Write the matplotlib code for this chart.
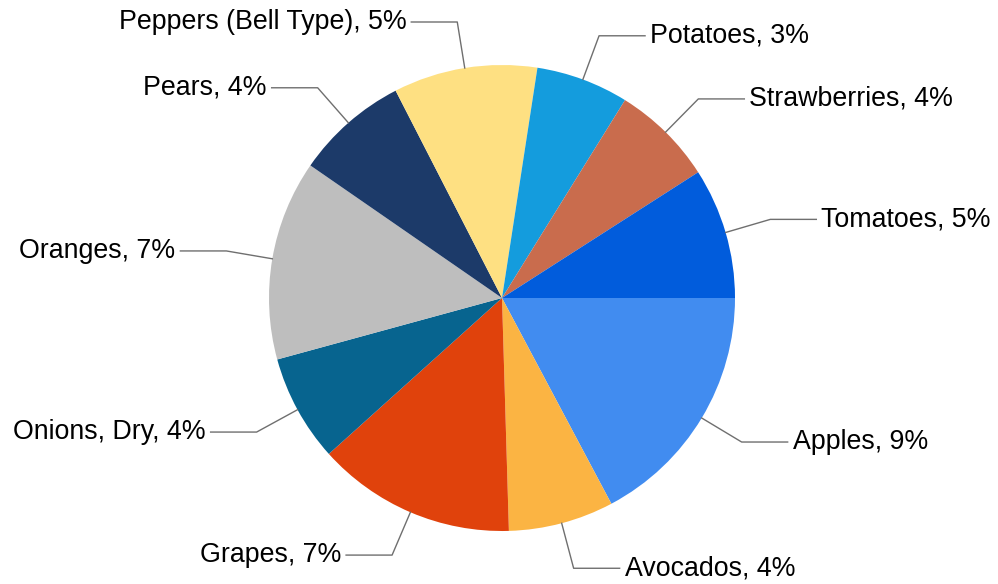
import matplotlib.pyplot as plt
import numpy as np

plt.rcParams['font.family'] = ['Liberation Sans', 'DejaVu Sans']

names = ['Apples', 'Avocados', 'Grapes', 'Onions, Dry', 'Oranges', 'Pears',
         'Peppers (Bell Type)', 'Potatoes', 'Strawberries', 'Tomatoes']
shares = [8.96, 3.80, 7.18, 3.86, 7.22, 4.07, 5.19, 3.34, 3.68, 4.72]
pct_labels = ['9%', '4%', '7%', '4%', '7%', '4%', '5%', '3%', '4%', '5%']
colors = ['#418cf0', '#fbb443', '#e0420c', '#07648f', '#bebebe', '#1c3a69',
          '#fee082', '#149cdd', '#c96c4d', '#015cdc']

W, H = 998, 584
cx, cy, R = 502, H - 298, 233

fig = plt.figure(figsize=(W / 100, H / 100), dpi=100)
ax = fig.add_axes([0, 0, 1, 1])
ax.set_xlim(0, W)
ax.set_ylim(0, H)
ax.set_aspect('equal')
ax.axis('off')

ax.pie(shares, colors=colors, startangle=0, counterclock=False,
       center=(cx, cy), radius=R, wedgeprops=dict(linewidth=0))
ax.set_xlim(0, W)
ax.set_ylim(0, H)

total = sum(shares)
start = 0.0
for name, v, p in zip(names, shares, pct_labels):
    ang = (start + v / 2) / total * 2 * np.pi
    start += v
    c, s = np.cos(ang), np.sin(ang)
    x0, y0 = cx + R * c, cy - R * s
    x1, y1 = cx + 1.2 * R * c, cy - 1.2 * R * s
    side = 1 if c >= 0 else -1
    x2 = x1 + side * 46
    ax.plot([x0, x1, x2], [y0, y1, y1], color='#6f6f6f', lw=1)
    ax.text(x2 + side * 5, y1, name + ', ' + p, fontsize=19.3,
            ha='left' if side > 0 else 'right', va='center', color='black')

plt.savefig('out.png', dpi=100)
